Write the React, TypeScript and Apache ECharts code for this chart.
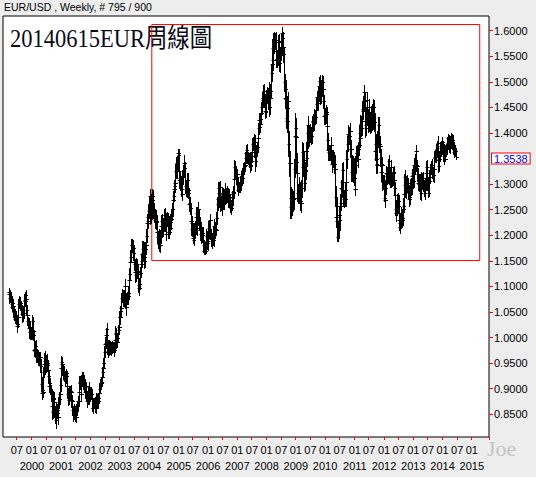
import React, { useEffect, useRef } from 'react';
import * as echarts from 'echarts';

// Weekly EUR/USD bars, Fri 1999-03-26 .. Fri 2014-06-13 (795 weeks).
// Closes in thousandths of a dollar; hx/lx = wick above/below the body, thousandths.
const FIRST_OPEN = 1090;
const c1999 = [1085,1078,1082,1074,1066,1060,1068,1062,1049,1044,1037,1044,1036,1034,1023,1027,1040,1066,1071,1068,1064,1058,1054,1046,1040,1047,1062,1074,1072,1084,1076,1054,1044,1033,1029,1019,1011,1020,1007,1010,1007];
const c2000 = [1032,1013,1005,975,978,974,983,967,966,961,966,958,956,958,962,945,910,892,897,894,932,949,955,960,941,955,950,947,936,924,906,911,899,893,889,867,855,880,881,873,856,845,839,861,858,853,844,874,880,890,908,940];
const c2001 = [952,948,936,928,935,925,917,922,930,925,905,890,878,893,886,895,895,894,877,875,858,849,851,859,858,849,845,858,866,875,875,893,911,914,911,889,914,923,912,918,913,903,894,905,888,876,878,894,894,904,884,890];
const c2002 = [893,889,880,862,862,872,872,872,862,876,882,877,872,875,882,891,900,910,912,914,922,932,940,951,971,988,990,1005,1016,982,985,974,983,976,979,984,978,978,982,982,982,975,980,995,1009,1006,994,992,999,1015,1021,1040];
const c2003 = [1040,1052,1058,1078,1080,1074,1077,1075,1083,1100,1072,1060,1078,1078,1082,1087,1112,1124,1148,1157,1180,1180,1179,1175,1165,1148,1143,1128,1123,1143,1129,1130,1124,1103,1097,1104,1127,1143,1150,1163,1174,1165,1176,1158,1149,1174,1180,1198,1223,1228,1236,1247];
const c2004 = [1260,1277,1236,1265,1246,1268,1276,1250,1249,1239,1229,1235,1226,1227,1207,1197,1182,1198,1189,1180,1198,1219,1228,1210,1209,1221,1231,1240,1240,1220,1203,1231,1233,1228,1206,1207,1228,1215,1225,1232,1240,1251,1269,1277,1291,1297,1303,1325,1341,1326,1336,1361,1356];
const c2005 = [1309,1312,1304,1303,1290,1281,1313,1325,1325,1342,1331,1296,1291,1289,1292,1308,1288,1283,1262,1263,1254,1228,1212,1224,1213,1195,1191,1209,1215,1212,1236,1243,1215,1231,1251,1236,1223,1210,1202,1212,1198,1200,1204,1180,1169,1174,1173,1170,1182,1199,1188,1184];
const c2006 = [1215,1207,1211,1229,1203,1192,1189,1192,1204,1191,1218,1204,1212,1213,1211,1234,1262,1271,1292,1282,1268,1294,1262,1264,1252,1279,1281,1264,1268,1276,1290,1275,1284,1277,1283,1270,1268,1280,1268,1257,1253,1260,1275,1273,1284,1283,1310,1334,1326,1312,1313,1320];
const c2007 = [1299,1288,1295,1294,1303,1298,1313,1316,1320,1312,1328,1332,1335,1337,1351,1360,1366,1352,1350,1352,1345,1351,1336,1337,1345,1354,1362,1378,1383,1367,1383,1367,1345,1367,1364,1372,1390,1410,1426,1412,1418,1428,1440,1450,1468,1465,1482,1464,1465,1442,1441,1472];
const c2008 = [1476,1476,1463,1467,1484,1450,1468,1482,1518,1535,1566,1543,1579,1571,1581,1581,1561,1545,1545,1547,1577,1553,1577,1536,1556,1579,1568,1595,1585,1569,1555,1500,1468,1486,1467,1429,1424,1449,1462,1379,1342,1342,1255,1273,1274,1260,1267,1270,1272,1330,1395,1409];
const c2009 = [1392,1343,1322,1283,1281,1295,1287,1282,1266,1264,1292,1362,1333,1348,1318,1303,1326,1327,1365,1351,1400,1416,1389,1399,1395,1404,1397,1394,1412,1421,1424,1418,1420,1433,1431,1432,1457,1470,1468,1458,1475,1491,1501,1472,1486,1491,1486,1499,1486,1462,1434,1436];
const c2010 = [1432,1441,1438,1414,1386,1367,1362,1361,1363,1363,1376,1353,1339,1350,1349,1350,1339,1330,1275,1236,1257,1227,1197,1211,1239,1229,1257,1264,1293,1290,1305,1328,1275,1270,1275,1289,1271,1305,1349,1379,1397,1396,1395,1394,1404,1369,1368,1324,1340,1323,1318,1312,1338];
const c2011 = [1291,1338,1361,1361,1358,1350,1369,1376,1399,1390,1418,1409,1423,1447,1443,1459,1481,1462,1410,1416,1433,1464,1434,1430,1418,1450,1425,1415,1436,1439,1428,1424,1439,1450,1421,1365,1379,1350,1339,1338,1388,1389,1415,1379,1375,1352,1323,1340,1338,1304,1305,1296];
const c2012 = [1272,1268,1293,1322,1315,1320,1315,1345,1320,1312,1308,1324,1334,1308,1308,1321,1323,1309,1292,1278,1252,1243,1252,1264,1257,1266,1229,1224,1216,1229,1239,1229,1233,1252,1258,1281,1313,1298,1286,1304,1296,1302,1294,1283,1271,1274,1298,1299,1292,1316,1318,1322];
const c2013 = [1307,1338,1332,1346,1364,1337,1336,1319,1302,1300,1308,1299,1282,1299,1311,1305,1303,1311,1299,1283,1293,1300,1322,1334,1312,1301,1283,1307,1314,1328,1328,1334,1334,1338,1322,1318,1330,1352,1353,1356,1355,1368,1381,1348,1336,1350,1355,1359,1371,1374,1367,1383];
const c2014 = [1359,1367,1354,1368,1349,1363,1369,1374,1381,1391,1391,1378,1375,1370,1389,1381,1383,1387,1376,1370,1363,1363,1365,1353.8];

const hx1999 = [7,9,10,8,10,9,11,8,7,10,8,11,7,9,8,10,12,9,11,8,9,7,8,10,8,12,10,11,9,6,8,7,9,8,7,10,8,12,8,9,8];
const lx1999 = [9,11,8,10,8,9,7,10,8,9,8,7,10,8,12,9,7,8,9,8,10,8,9,9,10,7,8,9,8,7,10,9,8,9,10,9,11,7,10,8,9];
const hx2000 = [12,9,14,10,13,9,10,13,9,12,10,9,12,13,10,8,9,12,13,16,10,12,14,9,13,10,12,9,10,8,12,9,10,8,9,8,9,16,12,13,9,10,12,13,9,10,12,9,13,10,12,14];
const lx2000 = [10,13,9,12,10,9,12,10,13,9,10,12,9,10,13,12,14,11,12,10,9,10,9,12,13,9,10,12,9,13,10,12,9,10,13,12,14,12,10,13,12,13,16,12,13,10,14,9,12,10,9,12];
const hx2001 = [12,9,10,8,12,9,10,12,9,8,9,10,12,13,9,10,8,12,9,10,8,9,10,12,8,9,10,13,9,10,8,12,13,9,10,12,13,9,10,8,9,10,9,12,9,8,10,9,12,10,8,9];
const lx2001 = [9,12,10,9,8,10,12,9,10,12,13,9,10,8,12,9,10,8,12,9,10,12,9,8,10,12,11,9,8,10,12,9,8,10,12,14,9,8,12,10,9,10,12,9,10,12,9,8,10,12,13,9];
const hx2002 = [9,8,10,9,8,10,9,8,12,9,10,8,9,10,8,9,12,9,10,8,9,10,12,9,13,10,12,9,3,13,12,10,9,12,10,9,8,10,9,12,10,9,8,12,13,9,10,12,9,10,13,12];
const lx2002 = [10,9,8,6,9,8,10,9,8,10,9,8,10,9,8,9,6,9,8,10,9,8,9,10,8,9,12,10,9,14,10,12,9,10,8,9,12,10,9,8,10,9,12,9,10,12,13,9,10,8,9,10];
const hx2003 = [12,10,13,9,14,12,10,13,9,14,12,13,10,12,9,13,10,12,13,14,12,13,10,12,10,13,12,10,13,12,10,13,12,9,13,12,10,13,12,10,14,12,13,10,12,13,10,14,12,13,10,14];
const lx2003 = [13,10,12,10,9,13,12,10,13,12,14,16,10,12,13,10,12,13,9,12,10,13,12,14,13,12,10,13,14,12,10,13,12,14,13,12,10,9,13,12,10,13,12,14,13,12,10,9,12,10,13,12];
const hx2004 = [14,14,13,14,16,13,14,12,13,14,12,13,14,12,13,10,12,14,13,12,13,14,12,13,10,12,13,12,14,10,12,13,12,10,13,12,10,13,12,10,12,13,12,10,13,12,13,14,12,13,10,8,6];
const lx2004 = [13,12,14,13,12,14,13,16,12,13,14,12,13,14,12,13,6,12,13,5,12,13,14,12,13,10,12,13,14,12,13,10,12,13,12,10,13,12,10,13,12,10,13,12,10,13,12,10,13,14,12,10,13];
const hx2005 = [12,13,14,12,13,10,14,13,12,15,13,12,13,14,12,13,14,12,10,13,12,10,14,13,12,10,14,13,12,13,14,13,12,13,14,12,13,10,12,13,12,10,13,12,10,12,13,10,12,13,10,12];
const lx2005 = [16,13,12,14,13,12,10,13,12,10,14,13,12,13,14,12,13,10,14,12,13,14,12,13,14,7,6,10,13,12,10,13,14,12,10,13,12,13,12,10,13,12,13,12,5,5,7,6,5,9,13,10];
const hx2006 = [13,12,10,13,12,10,9,12,13,10,12,13,10,12,9,12,13,14,12,13,12,6,13,12,10,13,12,10,12,13,12,10,9,12,10,9,12,10,9,12,10,9,12,10,13,12,14,13,12,10,9,10];
const lx2006 = [12,10,13,12,10,12,10,13,12,10,12,13,10,12,10,9,12,13,10,14,13,12,14,13,12,10,13,12,10,12,10,13,12,10,12,10,12,10,13,12,10,12,10,9,12,10,9,12,13,12,10,12];
const hx2007 = [10,12,9,10,12,9,10,9,12,10,9,10,9,10,12,9,10,12,9,10,9,10,12,9,10,9,10,12,9,14,10,13,12,10,9,10,12,9,12,13,12,10,9,10,12,13,12,14,13,12,10,12];
const lx2007 = [12,10,9,10,9,12,10,9,12,13,10,9,10,9,10,9,12,10,9,10,12,10,9,12,10,9,10,9,12,13,14,12,20,10,12,10,9,10,12,13,10,12,10,9,12,10,13,12,14,13,12,10];
const hx2008 = [14,13,12,14,15,13,14,13,16,15,18,19,16,14,16,15,17,14,13,15,14,13,16,14,13,15,14,9,12,13,12,14,16,15,18,16,19,24,18,16,24,22,20,22,19,16,18,16,15,19,45,20];
const lx2008 = [13,14,16,13,14,17,13,14,12,16,17,19,16,14,13,16,14,17,16,13,14,17,16,14,17,13,14,16,17,14,16,17,19,16,20,19,17,22,20,24,26,28,22,22,20,21,20,19,17,20,17,19];
const hx2009 = [20,17,18,16,17,18,16,17,14,16,17,20,18,17,16,14,17,16,18,17,16,18,14,16,13,14,13,12,14,13,12,13,12,13,12,13,14,13,12,13,14,13,8,13,12,13,12,15,13,14,13,12];
const lx2009 = [18,19,17,16,18,17,16,14,17,18,16,17,18,17,16,17,14,16,17,14,16,17,18,14,16,13,14,16,13,12,13,14,13,12,13,12,13,12,14,13,12,13,12,16,13,12,13,12,13,14,16,13];
const hx2010 = [13,14,13,12,14,13,16,14,13,14,16,13,14,13,16,14,13,17,20,22,17,18,16,14,17,16,14,17,16,14,17,14,16,14,13,16,14,16,17,16,14,18,16,17,10,16,17,16,17,14,13,12,13];
const lx2010 = [14,13,16,14,17,16,14,13,14,16,13,14,16,14,13,16,17,14,18,20,19,17,9,9,16,14,17,16,14,13,16,14,17,13,14,16,13,14,16,17,14,13,16,14,17,16,14,18,17,16,14,13,14];
const hx2011 = [16,17,14,13,16,14,13,14,16,14,17,16,14,16,13,14,10,13,16,14,17,16,14,13,16,14,17,16,17,14,18,20,16,17,14,16,17,18,16,17,16,17,16,17,16,14,16,14,13,14,13,12];
const lx2011 = [6,13,16,14,13,14,16,13,14,17,16,14,13,14,16,13,14,16,17,14,13,16,14,17,16,14,17,16,14,13,17,18,16,14,17,18,16,17,18,16,17,16,14,17,16,17,14,16,17,16,14,13];
const hx2012 = [14,13,16,14,13,12,14,5,12,13,12,10,13,12,13,12,10,12,13,12,13,14,16,17,14,16,13,14,16,14,17,13,12,13,14,13,6,14,13,12,13,12,10,12,13,10,12,13,12,13,10,12];
const lx2012 = [6,5,12,13,12,13,14,12,13,12,10,13,12,13,12,10,13,12,13,14,13,16,14,13,14,13,14,13,9,12,14,13,12,13,12,13,14,13,12,13,12,10,12,13,12,13,12,10,13,12,10,12];
const hx2013 = [13,12,14,13,12,8,10,12,13,12,10,12,10,13,12,10,12,13,12,10,12,10,13,12,14,13,12,14,13,12,10,12,10,12,10,12,10,13,12,10,12,10,4,13,12,10,9,10,12,10,9,10];
const lx2013 = [12,13,10,12,13,12,13,12,10,12,13,10,12,13,12,10,12,10,12,6,12,10,12,13,12,13,8,7,10,12,10,9,10,12,10,12,13,10,9,10,12,10,9,12,13,10,12,10,9,10,12,9];
const hx2014 = [2,10,12,10,9,10,9,10,12,7,6,5,9,10,6,10,9,10,9,9,10,9,10,6];
const lx2014 = [13,12,14,12,3,2,9,10,9,10,12,10,12,10,9,10,12,9,10,12,9,10,9,4];

const closeYears = [c1999,c2000,c2001,c2002,c2003,c2004,c2005,c2006,c2007,c2008,c2009,c2010,c2011,c2012,c2013,c2014];
const hxYears = [hx1999,hx2000,hx2001,hx2002,hx2003,hx2004,hx2005,hx2006,hx2007,hx2008,hx2009,hx2010,hx2011,hx2012,hx2013,hx2014];
const lxYears = [lx1999,lx2000,lx2001,lx2002,lx2003,lx2004,lx2005,lx2006,lx2007,lx2008,lx2009,lx2010,lx2011,lx2012,lx2013,lx2014];

const LAST_PRICE = 1.3538;
const Y_MIN = 0.8055;
const Y_MAX = 1.6287;
const yTickValues = [0.85,0.9,0.95,1.0,1.05,1.1,1.15,1.2,1.25,1.3,1.4,1.45,1.5,1.55,1.6];
const BOX_TOP = 1.612;
const BOX_BOTTOM = 1.1505;
const BOX_FROM_WEEK = '2004-02-06';
const BOX_TO_WEEK = '2015-04-10';
const HEADER = 'EUR/USD , Weekly, # 795 / 900';
const TITLE = '20140615EUR周線圖';
const SIGN = 'Joe';

const FIRST_FRIDAY = Date.UTC(1999, 2, 26);
const PAD_BEFORE = 10;
const TOTAL_SLOTS = 864;
const LAST_LABEL_YEAR = 2015;

const pad2 = (n: number) => (n < 10 ? '0' + n : '' + n);

function buildCategories(): string[] {
  const out: string[] = [];
  for (let k = 0; k < TOTAL_SLOTS; k++) {
    const d = new Date(FIRST_FRIDAY + (k - PAD_BEFORE) * 7 * 86400000);
    out.push(d.getUTCFullYear() + '-' + pad2(d.getUTCMonth() + 1) + '-' + pad2(d.getUTCDate()));
  }
  return out;
}

function buildBars(): number[][] {
  const closes = ([] as number[]).concat(...closeYears);
  const hx = ([] as number[]).concat(...hxYears);
  const lx = ([] as number[]).concat(...lxYears);
  const bars: number[][] = [];
  let prev = FIRST_OPEN / 1000;
  for (let i = 0; i < closes.length; i++) {
    const open = prev;
    const close = closes[i] / 1000;
    const high = Math.max(open, close) + hx[i] / 1000;
    const low = Math.min(open, close) - lx[i] / 1000;
    bars.push([PAD_BEFORE + i, open, close, low, high]);
    prev = close;
  }
  return bars;
}

function isHalfYearMark(value: string): boolean {
  const y = +value.slice(0, 4);
  const m = +value.slice(5, 7);
  const d = +value.slice(8, 10);
  if (d > 7) return false;
  if (m === 1) return y <= LAST_LABEL_YEAR;
  if (m === 7) return y < LAST_LABEL_YEAR;
  return false;
}

function isYearMark(value: string): boolean {
  return isHalfYearMark(value) && value.slice(5, 7) === '01';
}

export default function App() {
  const ref = useRef<HTMLDivElement>(null);
  useEffect(() => {
    document.body.style.margin = '0';
    const chart = echarts.init(ref.current!, undefined, { renderer: 'svg' });
    const cats = buildCategories();
    const bars = buildBars();
    const sans = 'Liberation Sans, Arial, sans-serif';
    const serif = 'Liberation Serif, Times New Roman, Noto Sans CJK TC, serif';
    chart.setOption({
      animation: false,
      backgroundColor: '#ededed',
      grid: {
        left: 3, top: 16, width: 486, height: 421,
        show: true, backgroundColor: '#ffffff', borderColor: '#000000', borderWidth: 1,
      },
      xAxis: [
        {
          type: 'category',
          data: cats,
          boundaryGap: true,
          axisLine: { show: false },
          splitLine: { show: false },
          axisTick: {
            show: true,
            length: 3,
            interval: (_i: number, v: string) => isHalfYearMark(v),
            lineStyle: { color: '#ff0000', width: 1 },
          },
          axisLabel: {
            interval: (_i: number, v: string) => isHalfYearMark(v),
            formatter: (v: string) => v.slice(5, 7),
            fontSize: 11,
            lineHeight: 16,
            margin: 5,
            color: '#000',
            fontFamily: sans,
          },
        },
        {
          type: 'category',
          data: cats,
          boundaryGap: true,
          position: 'bottom',
          offset: 16,
          axisLine: { show: false },
          splitLine: { show: false },
          axisTick: { show: false },
          axisLabel: {
            interval: (_i: number, v: string) => isYearMark(v),
            formatter: (v: string) => v.slice(0, 4),
            fontSize: 11,
            lineHeight: 16,
            margin: 5,
            color: '#000',
            fontFamily: sans,
          },
        },
      ],
      yAxis: {
        type: 'value',
        position: 'right',
        min: Y_MIN,
        max: Y_MAX,
        axisLine: { show: false },
        splitLine: { show: false },
        axisTick: {
          show: true, length: 4, customValues: yTickValues,
          lineStyle: { color: '#ff0000', width: 1 },
        },
        axisLabel: {
          customValues: yTickValues,
          formatter: (v: number) => v.toFixed(4),
          margin: 5,
          fontSize: 11,
          color: '#000',
          fontFamily: sans,
        },
      },
      graphic: [
        { type: 'text', x: 4, y: 7, scaleX: 0.955, style: { text: HEADER, fontSize: 11, fontFamily: sans, fill: '#000', verticalAlign: 'middle' } },
        { type: 'text', x: 10, y: 38, scaleX: 0.865, style: { text: TITLE, fontSize: 26, fontFamily: serif, fill: '#0a0a14', verticalAlign: 'middle' } },
        { type: 'text', x: 487, y: 448, style: { text: SIGN, fontSize: 22, fontFamily: serif, fill: '#c4c4c4', verticalAlign: 'middle' } },
      ],
      series: [
        {
          type: 'custom',
          xAxisIndex: 0,
          data: bars,
          encode: { x: 0, y: [1, 2, 3, 4] },
          renderItem: (_p: any, api: any) => {
            const k = api.value(0);
            const pO = api.coord([k, api.value(1)]);
            const pC = api.coord([k, api.value(2)]);
            const pL = api.coord([k, api.value(3)]);
            const pH = api.coord([k, api.value(4)]);
            const x = Math.round(pO[0]) + 0.5;
            const yO = Math.round(pO[1]) + 0.5;
            const yC = Math.round(pC[1]) + 0.5;
            const st = { stroke: '#000', lineWidth: 1 };
            return {
              type: 'group',
              children: [
                { type: 'line', shape: { x1: x, y1: Math.round(pH[1]), x2: x, y2: Math.round(pL[1]) + 1 }, style: st },
                { type: 'line', shape: { x1: x - 2, y1: yO, x2: x, y2: yO }, style: st },
                { type: 'line', shape: { x1: x, y1: yC, x2: x + 2.5, y2: yC }, style: st },
              ],
            };
          },
          markArea: {
            silent: true,
            itemStyle: { color: 'rgba(0,0,0,0)', borderColor: '#ff0000', borderWidth: 1 },
            data: [[{ coord: [BOX_FROM_WEEK, BOX_TOP] }, { coord: [BOX_TO_WEEK, BOX_BOTTOM] }]],
          },
          markLine: {
            silent: true,
            symbol: 'none',
            lineStyle: { color: 'rgba(0,0,0,0)', width: 1 },
            data: [{ yAxis: LAST_PRICE }],
            label: {
              show: true,
              position: 'end',
              distance: 3,
              formatter: () => LAST_PRICE.toFixed(4),
              color: '#0000ff',
              fontSize: 11,
              fontFamily: sans,
              lineHeight: 10,
              backgroundColor: '#ffffff',
              borderColor: '#ff0000',
              borderWidth: 1,
              padding: [0, 2, 0, 2],
            },
          },
        },
      ],
    });
    return () => chart.dispose();
  }, []);
  return <div ref={ref} style={{ position: 'fixed', left: 0, top: 0, width: 536, height: 477 }} />;
}
